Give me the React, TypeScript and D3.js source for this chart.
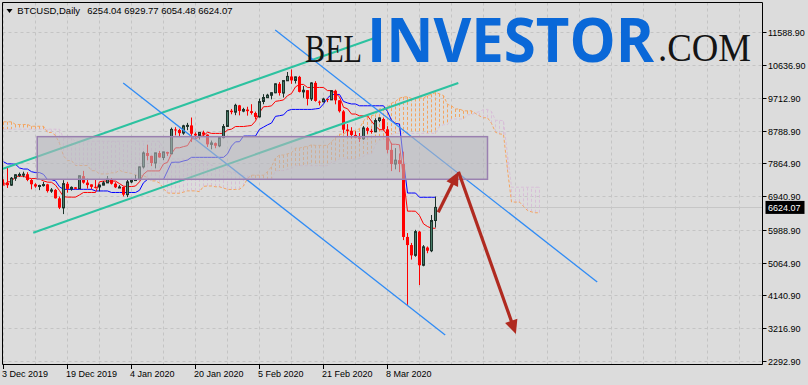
import React from "react";
import * as d3 from "d3";

// ---------- data ----------
const START_DATE = "2019-12-03";
const HEADER_SYMBOL = "BTCUSD,Daily";
const HEADER_OHLC = [6254.04, 6929.77, 6054.48, 6624.07];
const LAST_PRICE = 6624.07;

const OPEN = [7323,7320,7253,7450,7547,7551,7561,7398,7277,7216,7244,7276,7085,7118,6881,6612,7292,7145,7192,7153,7508,7325,7275,7206,7202,7254,7317,7420,7294,7194,7202,6985,7345,7410,7411,7768,8161,8082,7878,8162,8033,8189,8140,8826,8812,8725,8927,8941,8704,8658,8744,8680,8405,8440,8364,8597,8912,9357,9316,9508,9346,9389,9344,9292,9183,9617,9726,9793,9863,10115,9855,10202,10323,10211,10313,9889,9936,9691,10143,9612,9611,9687,9663,9921,9651,9338,8826,8788,8671,8599,8563,8865,8788,8760,9079,9122,8830,8250,7850,7960,7850,5790,5560,5270,5940,4990,5490,5400,6254.04];
const HIGH = [7418,7743,7483,7560,7609,7634,7618,7425,7308,7266,7344,7290,7172,7142,6932,7394,7346,7218,7199,7519,7657,7436,7276,7408,7275,7370,7513,7454,7335,7255,7212,7413,7427,7544,7781,8207,8396,8082,8166,8218,8198,8197,8879,8890,8846,8958,9013,9164,8745,8755,8792,8687,8514,8458,8602,8977,9358,9406,9553,9521,9439,9468,9540,9331,9701,9824,9834,9876,10129,10165,10210,10450,10520,10321,10341,10053,9938,10161,10191,9643,9723,9698,9937,9951,9652,9374,8977,8890,8775,8726,8921,8901,8843,9142,9167,9163,8920,8450,8300,8150,8200,5900,5620,5990,5960,5560,5520,6410,6929.77];
const LOW = [7250,7174,7233,7375,7487,7476,7365,7135,7180,7112,7211,7044,7035,6874,6577,6435,7041,7097,7136,7146,7295,7156,7136,7160,7079,7249,7316,7271,7170,7175,6935,6914,7309,7400,7409,7723,7956,7791,7727,8029,7961,8079,8140,8657,8613,8677,8806,8470,8560,8544,8636,8333,8266,8296,8325,8576,8908,9256,9230,9225,9313,9217,9248,9112,9163,9539,9726,9678,9851,9784,9729,10202,10116,10125,9874,9722,9507,9632,9611,9507,9589,9597,9657,9537,9305,8716,8633,8574,8599,8471,8532,8704,8712,8757,9032,8800,8150,7650,7700,7620,5700,3870,5150,5230,4430,4960,5330,5360,6054.48];
const CLOSE = [7320,7252,7448,7546,7556,7564,7400,7278,7217,7243,7269,7086,7118,6882,6616,7296,7148,7190,7150,7519,7324,7255,7205,7203,7254,7317,7422,7293,7193,7200,6985,7345,7410,7411,7769,8163,8079,7879,8166,8037,8192,8144,8828,8807,8723,8929,8942,8706,8658,8745,8680,8406,8445,8367,8597,8909,9358,9316,9508,9350,9392,9344,9293,9180,9613,9729,9795,9865,10116,9856,10208,10326,10214,10312,9889,9934,9690,10141,9633,9608,9686,9663,9924,9650,9342,8820,8784,8672,8599,8562,8869,8787,8755,9078,9153,8830,8250,7850,7960,7850,5790,5560,5270,5940,4990,5510,5400,6254.04,6624.07];

// Ichimoku lines, one value per bar
const TENKAN = [7226.5,7348,7348,7505,7505,7505,7458.5,7439,7439,7427.5,7373,7339,7334.5,7254,7097.5,6930,6914.5,6914.5,6914.5,6977,7046,7046,7046,7046,7349,7368,7368,7368,7368,7296,7224,7213.5,7213.5,7229,7347.5,7560.5,7655,7655,7655,7655,7852.5,7898,8144,8306.5,8308.5,8342.5,8370,8562.5,8562.5,8621.5,8652,8748.5,8715,8715,8715,8715,8812,8836,8909.5,8909.5,8909.5,8924.5,8939,9064.5,9304.5,9468,9473,9494,9620.5,9638.5,9661,9781,9841.5,10029.5,10099,10099,10013.5,10013.5,10013.5,10013.5,10013.5,9924,9924,9849,9748,9453.5,9412,9262.5,9262.5,9211,9211,9211,9061.5,8922.5,8819,8819,8658.5,8408.5,8408.5,8393.5,7433.5,6518.5,6518.5,6516.5,6395,6160,6085,6035,6035];
const KIJUN = [7913.5,7853.5,7853.5,7843.5,7738.5,7708.5,7708.5,7633.5,7608.5,7608.5,7558.5,7408.5,7408.5,7373.5,7206.5,7135.5,7135.5,7135.5,7135.5,7135.5,7135.5,7135.5,7135.5,7089,7089,7089,7089,7046,7046,7046,7046,7046,7046,7046,7108,7321,7415.5,7415.5,7415.5,7415.5,7415.5,7655,7896.5,7902,7902,7936,7963.5,8039,8039,8039,8039,8039,8039,8039,8039,8039,8136,8357.5,8476.5,8481,8638,8640,8640,8640,8831,8892.5,8956.5,9008,9197.5,9215.5,9238,9358,9393,9393,9393,9393,9393,9393,9408,9422.5,9548,9714,9816,9816,9816,9618,9576.5,9547,9547,9495.5,9495.5,9495.5,9495.5,9495.5,9495.5,9495.5,9335,9085,8995.5,8980.5,7945.5,7030.5,7030.5,7030.5,6910.5,6910.5,6910.5,6910.5,6910.5];
// Senkou spans, one value per bar from START_DATE (already shifted forward)
const SPAN_A = [9042,9042,9042,8967,8967,8967,8967,8917,8917,8917,8917,8742,8742,8657,8435,8080,7947,7947,7808,7808,7808,7808,7661,7661,7570,7570,7570,7601,7601,7674,7622,7607,7584,7536,7524,7518,7466,7374,7372,7314,7152,7033,7025,7025,7025,7056,7091,7091,7091,7068,7219,7229,7229,7207,7207,7171,7135,7130,7130,7138,7228,7441,7535,7535,7535,7535,7634,7777,8020,8104,8105,8139,8167,8301,8301,8330,8346,8394,8377,8377,8377,8377,8474,8597,8693,8695,8774,8782,8790,8852,9068,9180,9215,9251,9409,9427,9450,9570,9617,9711,9746,9746,9703,9703,9711,9718,9781,9819,9870,9833,9782,9536,9494,9405,9405,9353,9353,9353,9279,9209,9157,9157,8997,8747,8702,8687,7690,6775,6775,6774,6653,6535,6498,6473,6473];
const SPAN_B = [8835,8835,8835,8835,8835,8835,8835,8835,8835,8835,8835,8835,8835,8835,8835,8580,8580,8580,8494,8494,8494,8494,8494,8494,8494,8494,8494,8494,8494,8494,8494,8494,8494,8494,8494,8494,8494,8494,8494,8494,8259,8188,7993,7993,7993,7993,7993,7993,7993,7943,7933,7903,7823,7763,7763,7753,7648,7618,7618,7543,7518,7518,7468,7416,7416,7416,7416,7416,7657,7663,7663,7697,7724,7800,7800,7800,7800,7800,7800,7800,7800,7800,7897,7921,7994,7994,7994,7994,7994,7994,8068,8130,8135,8395,8522,8540,8562,8682,8717,8717,8717,8717,8717,8717,8717,8717,8717,8717,8717,8915,8960,8965,9122,9122,9122,9122,9241,9241,9300,9330,9393,9393,9335,9085,9085,9070,8110,7195,7195,7195,7195,7195,7195,7195,7195];

const PRICE_TICKS = [11588.9, 10636.9, 9712.9, 8788.9, 7864.9, 6940.9, 5988.9, 5064.9, 4140.9, 3216.9, 2292.9];
const DATE_TICKS = ["2019-12-03", "2019-12-19", "2020-01-04", "2020-01-20", "2020-02-05", "2020-02-21", "2020-03-08"];
const DATE_TICK_LABELS = ["3 Dec 2019", "19 Dec 2019", "4 Jan 2020", "20 Jan 2020", "5 Feb 2020", "21 Feb 2020", "8 Mar 2020"];

// drawn objects: [day offset from START_DATE, price]
const CHANNEL_UPPER = [[-0.33, 7710], [94.2, 11469]];
const CHANNEL_LOWER = [[7.43, 5910], [113.7, 10141]];
const FALL_LINE_1 = [[67.93, 11638], [148.43, 4517]];
const FALL_LINE_2 = [[29.93, 10141], [110.43, 3019]];
const ZONE = [[8.43, 8623], [121.0, 7419]];
const ARROW_UP = [[108.68, 6489], [113.75, 7634]];
const ARROW_DOWN = [[113.75, 7634], [128.1, 3047]];

const FONT = "'Liberation Sans', Arial, sans-serif";

export default function App() {
  const DAY = 86400000;
  const t0 = Date.parse(START_DATE);
  const dateAt = (d: number) => new Date(t0 + d * DAY);
  const x = d3.scaleUtc().domain([dateAt(0), dateAt(108)]).range([3.5, 435.5]);
  const y = d3.scaleLinear().domain([2292.9, 11588.9]).range([360.7, 31.7]);
  const xd = (d: number) => x(dateAt(d));

  const L = 2.5, T = 2.5, R = 762.5, B = 364.5;

  const lineGen = d3.line<number>().x((_, i) => xd(i)).y((v) => y(v));
  const pt = (p: number[]) => [xd(p[0]), y(p[1])];

  const vGrid = d3.range(0, 190, 8).map((d) => xd(d)).filter((v) => v < R);

  const arrow = (seg: number[][], key: string) => {
    const [x1, y1] = pt(seg[0]);
    const [x2, y2] = pt(seg[1]);
    const len = Math.hypot(x2 - x1, y2 - y1);
    const ux = (x2 - x1) / len, uy = (y2 - y1) / len;
    const hl = 14, hw = 6.5;
    const bx = x2 - ux * hl, by = y2 - uy * hl;
    const nx = -uy, ny = ux;
    return (
      <g key={key}>
        <line x1={x1} y1={y1} x2={x2 - ux * 6} y2={y2 - uy * 6} stroke="#b02a20" strokeWidth={3.2} strokeLinecap="butt" />
        <polygon points={`${x2},${y2} ${bx + nx * hw},${by + ny * hw} ${bx - nx * hw},${by - ny * hw}`} fill="#b02a20" />
      </g>
    );
  };

  const zoneA = pt(ZONE[0]);
  const zoneB = pt(ZONE[1]);
  const yLast = y(LAST_PRICE);

  return (
    <svg width={808} height={385} style={{ position: "absolute", left: 0, top: 0, display: "block" }}>
      <defs>
        <clipPath id="plot">
          <rect x={L} y={T} width={R - L} height={B - T} />
        </clipPath>
      </defs>
      <rect x={0} y={0} width={808} height={385} fill="#dcdcdc" />

      <g clipPath="url(#plot)">
        {/* grid */}
        {vGrid.map((gx, i) => (
          <line key={"vg" + i} x1={gx} x2={gx} y1={T} y2={B} stroke="#c4c4c4" strokeDasharray="3,3" />
        ))}
        {PRICE_TICKS.map((p, i) => (
          <line key={"hg" + i} x1={L} x2={R} y1={Math.round(y(p)) + 0.5} y2={Math.round(y(p)) + 0.5} stroke="#c4c4c4" strokeDasharray="3,3" />
        ))}
        <line x1={L} x2={R} y1={Math.round(yLast) + 0.5} y2={Math.round(yLast) + 0.5} stroke="#c6c6c6" />

        {/* cloud hatch */}
        {SPAN_A.map((a, i) => {
          const b = SPAN_B[i];
          if (Math.abs(a - b) < 1) return null;
          return (
            <line key={"h" + i} x1={xd(i)} x2={xd(i)} y1={y(a)} y2={y(b)}
              stroke={a > b ? "#f4a460" : "#d8bfd8"} strokeDasharray="3,2" />
          );
        })}
        <path d={lineGen(SPAN_B) || ""} fill="none" stroke="#d8bfd8" strokeDasharray="3,2" />
        <path d={lineGen(SPAN_A) || ""} fill="none" stroke="#f4a460" strokeDasharray="3,2" />

        {/* tenkan / kijun */}
        <path d={lineGen(KIJUN) || ""} fill="none" stroke="#0000ff" strokeWidth={1} />
        <path d={lineGen(TENKAN) || ""} fill="none" stroke="#ff0000" strokeWidth={1} />

        {/* candles */}
        {OPEN.map((o, i) => {
          const c = CLOSE[i];
          const cx = xd(i);
          const bull = c >= o;
          const top = y(Math.max(o, c));
          const bot = y(Math.min(o, c));
          const hgt = Math.max(1, bot - top);
          if (bull) {
            return (
              <g key={"c" + i}>
                <line x1={cx} x2={cx} y1={y(HIGH[i])} y2={y(LOW[i])} stroke="#1d332b" />
                <rect x={cx - 1} y={top} width={2} height={hgt} fill="#477c68" stroke="#1d332b" strokeWidth={1} />
              </g>
            );
          }
          return (
            <g key={"c" + i}>
              <line x1={cx} x2={cx} y1={y(HIGH[i])} y2={y(LOW[i])} stroke="#ff0000" />
              <rect x={cx - 1.5} y={top} width={3} height={hgt} fill="#ff0000" />
            </g>
          );
        })}

        {/* trend lines */}
        {[CHANNEL_UPPER, CHANNEL_LOWER].map((s, i) => {
          const [x1, y1] = pt(s[0]);
          const [x2, y2] = pt(s[1]);
          return <line key={"ch" + i} x1={x1} y1={y1} x2={x2} y2={y2} stroke="#2cc2a0" strokeWidth={2} />;
        })}
        {[FALL_LINE_1, FALL_LINE_2].map((s, i) => {
          const [x1, y1] = pt(s[0]);
          const [x2, y2] = pt(s[1]);
          return <line key={"fl" + i} x1={x1} y1={y1} x2={x2} y2={y2} stroke="#2f8bf5" strokeWidth={1.3} />;
        })}

        {/* zone */}
        <rect x={zoneA[0]} y={zoneA[1]} width={zoneB[0] - zoneA[0]} height={zoneB[1] - zoneA[1]}
          fill="rgb(182,182,190)" fillOpacity={0.58} stroke="#9a80b0" strokeWidth={1.5} />

        {arrow(ARROW_UP, "au")}
        {arrow(ARROW_DOWN, "ad")}
      </g>

      {/* frame / axes */}
      <line x1={L} x2={R} y1={T} y2={T} stroke="#000" />
      <line x1={L} x2={L} y1={T} y2={B} stroke="#000" />
      <line x1={R} x2={R} y1={T} y2={B} stroke="#000" />
      <line x1={L} x2={R} y1={B} y2={B} stroke="#000" />

      {PRICE_TICKS.map((p, i) => {
        const ty = Math.round(y(p)) + 0.5;
        return (
          <g key={"yt" + i}>
            <line x1={R} x2={R + 4} y1={ty} y2={ty} stroke="#000" />
            <text x={768} y={ty} dy="0.35em" fontFamily={FONT} fontSize={9} fill="#000">{p.toFixed(2)}</text>
          </g>
        );
      })}
      <rect x={765.5} y={yLast - 6.5} width={39} height={13} fill="#000" />
      <text x={768} y={yLast} dy="0.35em" fontFamily={FONT} fontSize={9} fill="#fff">{LAST_PRICE.toFixed(2)}</text>

      {DATE_TICKS.map((ds, i) => {
        const tx = x(new Date(Date.parse(ds)));
        return (
          <g key={"xt" + i}>
            <line x1={tx} x2={tx} y1={B} y2={B + 4.5} stroke="#000" />
            <text x={tx - 1.5} y={377} fontFamily={FONT} fontSize={9} fill="#000">{DATE_TICK_LABELS[i]}</text>
          </g>
        );
      })}

      {/* header */}
      <polygon points="6.5,9 12.5,9 9.5,13" fill="#000" />
      <text x={17.3} y={14.3} fontFamily={FONT} fontSize={9.5} fill="#000">{HEADER_SYMBOL}</text>
      <text x={87.3} y={14.3} fontFamily={FONT} fontSize={9.5} fill="#000">{HEADER_OHLC.map((v) => v.toFixed(2)).join(" ")}</text>

      {/* watermark */}
      <text x={305} y={61.7} fontFamily="'Liberation Serif', 'Times New Roman', serif" fontSize={40} fill="#141414"
        textLength={57} lengthAdjust="spacingAndGlyphs">BEL</text>
      <text x={367} y={61.7} fontFamily="'Open Sans', sans-serif" fontWeight={700} fontSize={60} fill="#0a68d8"
        textLength={287} lengthAdjust="spacingAndGlyphs">INVESTOR</text>
      <text x={658} y={60.7} fontFamily="'Liberation Serif', 'Times New Roman', serif" fontSize={39} fill="#141414"
        textLength={93} lengthAdjust="spacingAndGlyphs">.COM</text>
    </svg>
  );
}
